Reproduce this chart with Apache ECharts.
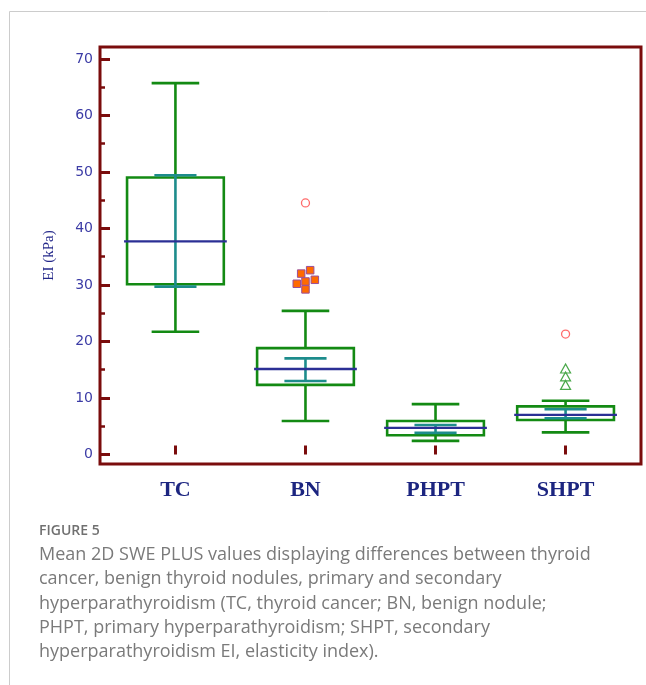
<!DOCTYPE html>
<html><head><meta charset="utf-8">
<script src="https://cdn.jsdelivr.net/npm/echarts@6/dist/echarts.min.js"></script>
<style>html,body{margin:0;padding:0;background:#fff}#c{width:646px;height:685px}</style>
</head><body><div id="c"></div>
<script>
const categories = ['TC', 'BN', 'PHPT', 'SHPT'];
const whiskerLow = [21.7, 5.9, 2.4, 3.9];
const q1 = [30.1, 12.3, 3.4, 6.1];
const median = [37.7, 15.1, 4.7, 7.0];
const q3 = [49.0, 18.8, 5.9, 8.5];
const whiskerHigh = [65.7, 25.4, 8.9, 9.5];
const ciLow = [29.7, 13.0, 3.8, 6.4];
const ciHigh = [49.4, 17.0, 5.2, 8.0];
const yTicks = [0, 10, 20, 30, 40, 50, 60, 70];
const yMinorTicks = [5, 15, 25, 35, 45, 55, 65];
// outliers
const bnFarY = [44.5];
const bnNearY = [32.6, 32.0, 30.6, 30.2, 30.9, 29.2];
const bnNearJitter = [0.036, -0.033, 0, -0.067, 0.072, 0];
const shptFarY = [21.3];
const shptNearY = [15.2, 13.8, 12.3];
const captionHead = 'FIGURE 5';
const captionLines = [
  'Mean 2D SWE PLUS values displaying differences between thyroid',
  'cancer, benign thyroid nodules, primary and secondary',
  'hyperparathyroidism (TC, thyroid cancer; BN, benign nodule;',
  'PHPT, primary hyperparathyroidism; SHPT, secondary',
  'hyperparathyroidism EI, elasticity index).'
];

const GREEN = '#138a13', BLUE = '#2b2f95', TEAL = '#1d8c8c', FRAME = '#7a0c0c';
const boxData = categories.map((c, i) => [i + 1, whiskerLow[i], q1[i], median[i], q3[i], whiskerHigh[i], ciLow[i], ciHigh[i]]);

function renderItem(params, api) {
  const x = api.value(0);
  const unit = api.size([1, 0])[0];
  const p = k => api.coord([x, api.value(k)]);
  const cx = p(3)[0];
  const yLow = p(1)[1], yQ1 = p(2)[1], yMed = p(3)[1], yQ3 = p(4)[1], yHigh = p(5)[1], yCL = p(6)[1], yCH = p(7)[1];
  const boxHW = unit * 0.372, medHW = unit * 0.395, capHW = unit * 0.183, ciHW = unit * 0.162;
  const gs = { stroke: GREEN, lineWidth: 2.6, fill: null };
  const ts = { stroke: TEAL, lineWidth: 2.6, fill: null };
  const line = (x1, y1, x2, y2, s) => ({ type: 'line', shape: { x1, y1, x2, y2 }, style: s });
  return {
    type: 'group',
    children: [
      line(cx, yLow, cx, yQ1, gs),
      line(cx, yQ3, cx, yHigh, gs),
      line(cx - capHW, yLow, cx + capHW, yLow, gs),
      line(cx - capHW, yHigh, cx + capHW, yHigh, gs),
      { type: 'rect', shape: { x: cx - boxHW, y: yQ3, width: 2 * boxHW, height: yQ1 - yQ3 }, style: gs },
      line(cx, yCL, cx, yCH, ts),
      line(cx - ciHW, yCL, cx + ciHW, yCL, ts),
      line(cx - ciHW, yCH, cx + ciHW, yCH, ts),
      line(cx - medHW, yMed, cx + medHW, yMed, { stroke: BLUE, lineWidth: 2.4 })
    ]
  };
}

const chart = echarts.init(document.getElementById('c'), null, { renderer: 'canvas' });
const yMin = -1.7, yMax = 72.1;
chart.setOption({
  animation: false,
  backgroundColor: '#fff',
  grid: { left: 100, top: 47, right: 5, bottom: 221, show: true, borderColor: FRAME, borderWidth: 3, backgroundColor: 'transparent' },
  xAxis: {
    type: 'value', min: 0.42, max: 4.58,
    axisLine: { show: false },
    splitLine: { show: false },
    axisTick: { show: true, inside: true, length: 9, customValues: [1, 2, 3, 4], lineStyle: { color: FRAME, width: 3 } },
    axisLabel: {
      customValues: [1, 2, 3, 4], formatter: v => categories[Math.round(v) - 1] || '',
      margin: 15, fontFamily: 'Liberation Serif', fontWeight: 'bold', fontSize: 22, color: '#1c2580'
    }
  },
  yAxis: [{
    type: 'value', min: yMin, max: yMax, position: 'left',
    name: 'EI (kPa)', nameLocation: 'middle', nameGap: 43, nameRotate: 90,
    nameTextStyle: { fontFamily: 'Liberation Serif', fontWeight: 'normal', fontSize: 15, color: '#24288a' },
    axisLine: { show: false },
    splitLine: { show: false },
    axisTick: { show: true, inside: true, length: 10, customValues: yTicks, lineStyle: { color: FRAME, width: 3 } },
    axisLabel: { customValues: yTicks, margin: 7, fontFamily: 'DejaVu Sans', fontSize: 14, color: '#3c3ca6' }
  }, {
    type: 'value', min: yMin, max: yMax, position: 'left', offset: 0,
    axisLine: { show: false }, splitLine: { show: false }, axisLabel: { show: false },
    axisTick: { show: true, inside: true, length: 5, customValues: yMinorTicks, lineStyle: { color: FRAME, width: 2.5 } }
  }],
  series: [
    { type: 'custom', renderItem, data: boxData, encode: { x: 0, y: [1, 2, 3, 4, 5, 6, 7] }, z: 2 },
    { type: 'scatter', symbol: 'rect', symbolSize: 7.5, z: 3,
      itemStyle: { color: '#ff6a00', borderColor: '#9a4f9a', borderWidth: 1, opacity: 1 },
      data: bnNearY.map((y, i) => [2 + bnNearJitter[i], y]) },
    { type: 'scatter', symbol: 'circle', symbolSize: 8, z: 3,
      itemStyle: { color: 'rgba(0,0,0,0)', borderColor: '#ff6b6b', borderWidth: 1.3, opacity: 1 },
      data: bnFarY.map(y => [2, y]).concat(shptFarY.map(y => [4, y])) },
    { type: 'scatter', symbol: 'triangle', symbolSize: [10, 9], z: 3,
      itemStyle: { color: 'rgba(0,0,0,0)', borderColor: '#4aa84a', borderWidth: 1.2, opacity: 1 },
      data: shptNearY.map(y => [4, y]) }
  ],
  graphic: [
    { type: 'rect', shape: { x: 9.5, y: 11.5, width: 800, height: 800 }, style: { fill: null, stroke: '#cccccc', lineWidth: 1 }, silent: true },
    { type: 'text', x: 39, y: 531, style: { text: captionHead, font: '600 14px "Open Sans"', fill: '#707070', verticalAlign: 'middle' } },
    ...captionLines.map((t, i) => ({ type: 'text', x: 39, y: 555 + i * 24.3, style: { text: t, font: '18px "Open Sans"', fill: '#7a7a7a', verticalAlign: 'middle' } }))
  ]
});
</script></body></html>
